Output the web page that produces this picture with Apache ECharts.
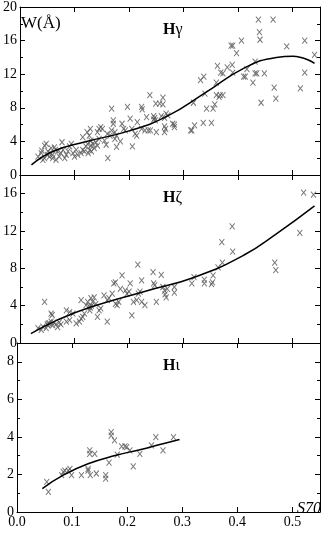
<!DOCTYPE html>
<html>
<head>
<meta charset="utf-8">
<script src="https://cdn.jsdelivr.net/npm/echarts@6/dist/echarts.min.js"></script>
<style>
html, body { margin: 0; padding: 0; background: #fff; }
#main { width: 322px; height: 533px; }
</style>
</head>
<body>
<div id="main"></div>
<script>
var hGammaPts = [
    [0.033,2.2],[0.039,2.6],[0.042,1.8],[0.045,3.5],[0.048,3.7],[0.051,2.8],[0.054,2.2],[0.057,3.2],
    [0.06,2.4],[0.063,3.3],[0.066,1.8],[0.069,2.8],[0.072,2.2],[0.075,2.6],[0.079,3.0],[0.077,3.9],
    [0.082,2.0],[0.085,2.4],[0.088,2.8],[0.091,3.4],[0.094,3.7],[0.097,2.6],[0.1,2.2],[0.103,3.0],
    [0.106,2.4],[0.112,2.6],[0.115,3.0],[0.115,4.5],[0.118,2.8],[0.121,3.4],[0.124,3.7],[0.127,4.7],
    [0.13,4.1],[0.13,3.5],[0.133,3.7],[0.136,3.2],[0.139,3.9],[0.142,3.5],[0.145,4.3],[0.142,5.1],
    [0.145,5.5],[0.148,5.7],[0.151,5.5],[0.161,2.0],[0.045,2.0],[0.05,2.4],[0.055,2.6],[0.06,2.0],
    [0.065,3.0],[0.04,2.9],[0.125,2.6],[0.128,3.0],[0.131,2.8],[0.123,5.1],[0.129,5.5],
    [0.155,4.1],[0.158,3.6],[0.16,4.9],[0.168,7.9],[0.171,6.1],[0.171,6.5],[0.168,5.3],[0.174,5.1],
    [0.165,4.7],[0.177,4.7],[0.174,4.3],[0.187,6.1],[0.19,5.5],[0.193,5.3],[0.184,4.0],[0.177,3.35],
    [0.197,8.1],[0.202,6.7],[0.205,5.5],[0.206,3.4],[0.211,4.9],[0.214,4.7],[0.215,6.3],[0.223,8.1],
    [0.224,7.8],[0.223,5.5],[0.229,5.3],[0.235,5.3],[0.239,5.3],[0.232,6.9],[0.238,9.5],[0.245,7.0],
    [0.247,6.8],[0.245,6.6],[0.248,6.5],[0.249,8.5],[0.256,8.5],[0.262,8.4],[0.262,9.2],[0.25,5.1],
    [0.259,7.0],[0.265,6.8],[0.268,7.3],[0.271,7.1],[0.265,5.8],[0.267,5.5],[0.265,5.1],[0.28,6.1],
    [0.283,6.0],[0.283,5.7],[0.313,5.3],[0.32,5.9],
    [0.437,18.5],[0.464,18.5],[0.439,17.0],[0.44,16.1],[0.406,16.0],[0.522,16.0],[0.489,15.3],[0.387,15.4],
    [0.39,15.4],[0.397,14.5],[0.54,14.3],[0.431,13.5],[0.362,13.0],[0.38,12.8],[0.389,13.1],[0.368,12.2],
    [0.372,12.1],[0.39,12.2],[0.416,12.6],[0.41,11.7],[0.413,11.7],[0.431,12.1],[0.434,12.1],[0.448,12.1],
    [0.522,12.2],[0.331,11.3],[0.337,11.7],[0.36,11.0],[0.427,11.0],[0.514,10.3],[0.466,10.4],[0.469,9.1],
    [0.339,9.7],[0.36,9.5],[0.367,9.5],[0.372,9.5],[0.365,9.3],[0.318,8.6],[0.357,8.4],[0.442,8.6],
    [0.342,7.9],[0.354,7.9],[0.315,5.3],[0.336,6.2],[0.351,6.2]
];
var hGammaFit = [
    [0.021,1.2],[0.06,2.8],[0.12,3.95],[0.2,5.25],[0.27,7.0],[0.34,9.8],[0.41,12.7],[0.47,14.0],
    [0.5,14.15],[0.54,13.3]
];

var hZetaPts = [
    [0.045,4.4],[0.033,1.6],[0.039,1.4],[0.042,1.75],[0.048,1.6],[0.051,1.9],[0.054,2.1],[0.057,2.3],
    [0.06,1.9],[0.057,3.15],[0.059,3.0],[0.066,2.0],[0.069,1.7],[0.072,2.2],[0.075,2.0],[0.085,3.5],
    [0.091,3.3],[0.097,3.15],[0.085,2.3],[0.091,2.45],[0.103,2.1],[0.109,2.3],[0.112,2.6],[0.115,2.8],
    [0.112,4.6],[0.121,4.05],[0.124,4.4],[0.127,3.9],[0.128,3.5],[0.118,3.15],[0.13,4.8],[0.133,4.4],
    [0.136,4.9],[0.139,4.2],[0.145,3.5],[0.148,3.7],[0.142,2.8],[0.154,5.1],[0.16,4.6],[0.163,4.8],
    [0.169,5.3],[0.16,2.3],[0.172,6.4],[0.175,6.5],[0.175,4.2],[0.178,4.05],[0.181,4.4],[0.184,5.8],
    [0.187,7.25],[0.193,5.65],[0.196,5.3],[0.2,5.5],[0.202,6.4],[0.205,2.95],[0.208,4.4],[0.214,4.6],
    [0.216,8.4],[0.217,5.3],[0.22,5.5],[0.223,6.7],[0.223,4.4],[0.229,4.05],[0.244,7.6],[0.245,6.4],
    [0.247,6.2],[0.25,4.4],[0.259,7.3],[0.262,6.0],[0.265,5.6],[0.266,5.2],[0.268,4.9],[0.27,5.8],
    [0.283,6.0],[0.283,5.4],[0.315,6.4],[0.319,7.07],[0.338,6.8],[0.338,6.4],[0.351,6.3],[0.353,6.5],
    [0.354,7.25],[0.363,8.1],[0.37,10.8],[0.371,8.6],[0.389,12.5],[0.39,9.8],[0.467,8.6],[0.469,7.8],
    [0.513,11.8],[0.52,16.1],[0.538,15.9],[0.05,2.0],[0.052,2.1],[0.062,2.2],[0.129,3.8],[0.131,4.0]
];
var hZetaFit = [
    [0.02,1.0],[0.07,2.5],[0.13,3.85],[0.23,5.55],[0.32,7.05],[0.41,9.4],[0.47,11.7],[0.54,14.7]
];

var hIotaPts = [
    [0.054,1.6],[0.057,1.07],[0.081,1.96],[0.084,2.14],[0.087,2.2],[0.093,2.2],[0.096,2.3],[0.099,1.96],
    [0.117,1.96],[0.129,2.3],[0.129,2.2],[0.132,3.28],[0.132,3.1],[0.141,3.1],[0.133,1.96],[0.144,2.05],
    [0.161,1.96],[0.161,1.78],[0.167,2.63],[0.171,4.25],[0.171,4.07],[0.177,3.81],[0.182,3.05],[0.19,3.49],
    [0.196,3.49],[0.199,3.45],[0.205,3.28],[0.211,2.43],[0.223,3.1],[0.244,3.55],[0.252,3.99],[0.265,3.28],
    [0.284,3.99]
];
var hIotaFit = [
    [0.046,1.25],[0.084,1.96],[0.129,2.57],[0.18,3.02],[0.223,3.32],[0.265,3.64],[0.295,3.86]
];

// y ranges per panel: [max, tick interval]
var yRanges = [[20,4],[18,4],[9,2]];

var font = 'Liberation Serif';
var myChart = echarts.init(document.getElementById('main'));

var grids = [
    {left:17, right:2, top:6, height:169},
    {left:17, right:2, top:175, height:168},
    {left:17, right:2, top:343, height:169}
];

var xAxes = [], yAxes = [];
for (var i = 0; i < 3; i++) {
    for (var k = 0; k < 2; k++) {
        xAxes.push({
            type:'value', gridIndex:i, position: k == 0 ? 'bottom' : 'top',
            min:0, max:0.55, interval:0.1,
            axisLine:{show:true, onZero:false, lineStyle:{color:'#000', width:1}},
            axisTick:{show:true, inside:true, length:5, lineStyle:{color:'#000'}},
            splitLine:{show:false},
            axisLabel:{show: (i == 2 && k == 0), showMaxLabel:false, margin:3,
                fontFamily:font, fontSize:14, color:'#000',
                formatter:function(v){ return v.toFixed(1); }}
        });
        yAxes.push({
            type:'value', gridIndex:i, position: k == 0 ? 'left' : 'right',
            min:0, max:yRanges[i][0], interval:yRanges[i][1],
            axisLine:{show:true, onZero:false, lineStyle:{color:'#000', width:1}},
            axisTick:{show:true, inside:true, length:5, lineStyle:{color:'#000'}},
            minorTick:{show:true, splitNumber:2, length:3, lineStyle:{color:'#000'}},
            splitLine:{show:false},
            axisLabel:{show: k == 0, showMaxLabel: i == 0, margin:3,
                fontFamily:font, fontSize:14, color:'#000'}
        });
    }
}

var cross = 'path://M0,0L10,12M10,0L0,12';
function pts(data, gi) {
    return {
        type:'scatter', xAxisIndex:gi*2, yAxisIndex:gi*2, data:data,
        symbol:cross, symbolSize:[5,6],
        itemStyle:{color:'none', borderColor:'#555', borderWidth:1},
        silent:true, z:2
    };
}
function fit(data, gi) {
    return {
        type:'line', xAxisIndex:gi*2, yAxisIndex:gi*2, data:data,
        smooth:0.5, showSymbol:false, silent:true, z:3,
        lineStyle:{color:'#000', width:1.5}
    };
}

function label(x, y, greek) {
    return {
        type:'text', left:x, top:y, z:10,
        style:{text:'{h|H}{g|' + greek + '}', rich:{
            h:{fontFamily:font, fontSize:16, fontWeight:'bold', fill:'#000'},
            g:{fontFamily:font, fontSize:16, fill:'#000'}
        }}
    };
}

var option = {
    animation:false,
    grid:grids,
    xAxis:xAxes,
    yAxis:yAxes,
    series:[
        pts(hGammaPts, 0), fit(hGammaFit, 0),
        pts(hZetaPts, 1), fit(hZetaFit, 1),
        pts(hIotaPts, 2), fit(hIotaFit, 2)
    ],
    graphic:[
        {type:'text', left:21, top:15, z:10,
            style:{text:'W(Å)', fontFamily:font, fontSize:17, fill:'#000'}},
        label(163, 22, 'γ'),
        label(163, 190, 'ζ'),
        label(163, 358, 'ι'),
        {type:'text', left:297, top:501, z:10,
            style:{text:'S70', fontFamily:font, fontSize:16, fontStyle:'italic', fill:'#000'}}
    ]
};
myChart.setOption(option);
</script>
</body>
</html>
